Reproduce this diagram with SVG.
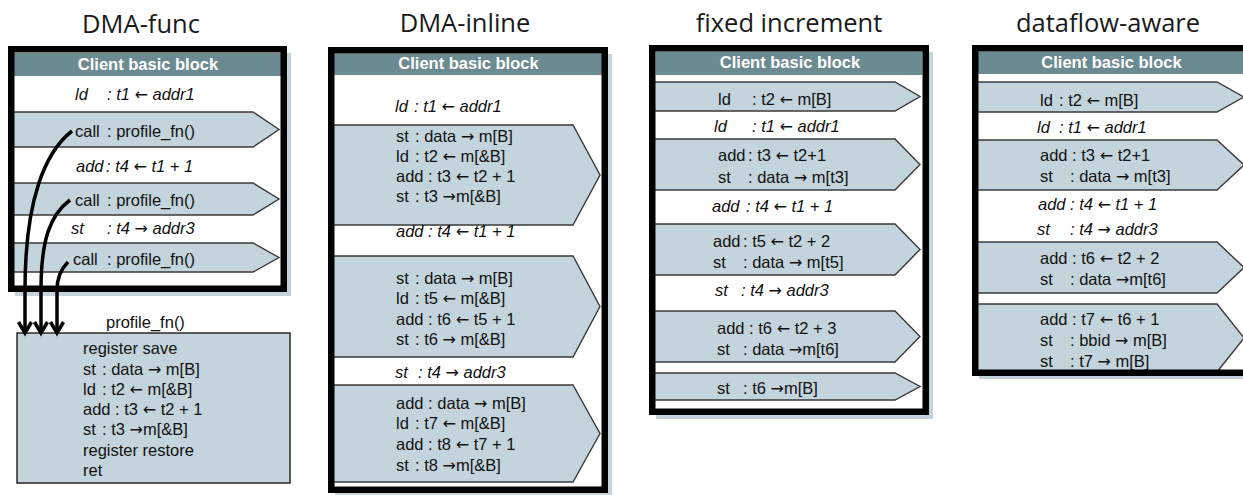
<svg xmlns="http://www.w3.org/2000/svg" width="1243" height="495" viewBox="0 0 1243 495">
<style>
.title{font-family:"Open Sans","Liberation Sans",sans-serif;font-size:25.5px;fill:#1a1a1a;text-anchor:middle}
.hdrt{font-family:"Liberation Sans",Arial,sans-serif;font-size:16.5px;font-weight:bold;fill:#ffffff;text-anchor:middle}
.t{font-family:"Liberation Sans",Arial,sans-serif;font-size:16.5px;fill:#111}
.i{font-style:italic}
.a{font-family:"DejaVu Sans",sans-serif;font-style:normal;font-size:16px}
.shadow{fill:#c3d4dc}
.bg{fill:#ffffff}
.hdr{fill:#6c8a91}
.pent{fill:#c3d4dc;stroke:#3a3a3a;stroke-width:1.4}
.border{fill:none;stroke:#000;stroke-width:6.5}
.conn{fill:none;stroke:#000;stroke-width:3.5}
</style>
<defs>
<marker id="ah" markerUnits="userSpaceOnUse" markerWidth="20" markerHeight="20" refX="13" refY="8" orient="auto">
<path d="M2,1.5 L13,8 L2,14.5" fill="none" stroke="#000" stroke-width="3.5" stroke-linejoin="miter"/>
</marker>
</defs>

<g id="titles">
<text class="title" x="141" y="33">DMA-func</text>
<text class="title" x="465" y="32">DMA-inline</text>
<text class="title" x="789" y="32">fixed increment</text>
<text class="title" x="1108" y="32">dataflow-aware</text>
</g>

<g id="panel-dma-func">
<rect class="shadow" x="15" y="53" width="276" height="243"/>
<rect class="bg" x="11" y="49" width="273" height="240"/>
<rect class="hdr" x="14" y="53" width="267" height="23"/>
<text class="hdrt" x="148" y="70">Client basic block</text>
<text class="t i" y="99.5"><tspan x="75">ld</tspan><tspan x="107">: t1 <tspan class="a">←</tspan>  addr1</tspan></text>
<path class="pent" d="M12,112 H253 L279,129.5 L253,147 H12 Z"/>
<text class="t" y="137"><tspan x="75">call</tspan><tspan x="107">: profile_fn()</tspan></text>
<text class="t i" y="171.5"><tspan x="76">add</tspan><tspan x="106">:  t4 <tspan class="a">←</tspan>  t1 + 1</tspan></text>
<path class="pent" d="M12,183 H253 L279,199 L253,215 H12 Z"/>
<text class="t" y="205.5"><tspan x="75">call</tspan><tspan x="107">: profile_fn()</tspan></text>
<text class="t i" y="233.5"><tspan x="71">st</tspan><tspan x="107">: t4 <tspan class="a">→</tspan> addr3</tspan></text>
<path class="pent" d="M12,243 H253 L279,257.5 L253,272 H12 Z"/>
<text class="t" y="264.5"><tspan x="73">call</tspan><tspan x="107">: profile_fn()</tspan></text>
<rect class="border" x="11.25" y="49.25" width="272.5" height="239.5"/>
</g>

<g id="profile-fn">
<text class="t" x="106" y="328">profile_fn()</text>
<rect x="17" y="333" width="273" height="150" fill="#c3d4dc" stroke="#2a2a2a" stroke-width="1.5"/>
<text class="t" x="83" y="354">register save</text>
<text class="t" y="374.5"><tspan x="83">st</tspan><tspan x="102">: data <tspan class="a">→</tspan> m[B]</tspan></text>
<text class="t" y="395"><tspan x="83">ld</tspan><tspan x="102">: t2 <tspan class="a">←</tspan> m[&amp;B]</tspan></text>
<text class="t" x="83" y="415">add : t3 <tspan class="a">←</tspan> t2 + 1</text>
<text class="t" y="435"><tspan x="83">st</tspan><tspan x="102">: t3 <tspan class="a">→</tspan>m[&amp;B]</tspan></text>
<text class="t" x="83" y="455.5">register restore</text>
<text class="t" x="83" y="476">ret</text>
</g>

<g id="connectors">
<path class="conn" marker-end="url(#ah)" d="M72,131 C45,152 25,200 25,290 L25,333"/>
<path class="conn" marker-end="url(#ah)" d="M70,200 C50,215 41,240 41,290 L41,333"/>
<path class="conn" marker-end="url(#ah)" d="M68,262 C60,270 57,280 57,290 L57,333"/>
</g>

<g id="panel-dma-inline">
<rect class="shadow" x="335" y="54" width="277" height="443"/>
<rect class="bg" x="331" y="50" width="274" height="440"/>
<rect class="hdr" x="334" y="53.5" width="268" height="21.5"/>
<text class="hdrt" x="468.5" y="69">Client basic block</text>
<text class="t i" y="112"><tspan x="395">ld</tspan><tspan x="414">: t1 <tspan class="a">←</tspan>  addr1</tspan></text>
<path class="pent" d="M333,125 H573 L600,175 L573,225 H333 Z"/>
<text class="t" y="142"><tspan x="396">st</tspan><tspan x="415">: data <tspan class="a">→</tspan> m[B]</tspan></text>
<text class="t" y="162"><tspan x="396">ld</tspan><tspan x="415">: t2  <tspan class="a">←</tspan> m[&amp;B]</tspan></text>
<text class="t" x="396" y="182">add : t3 <tspan class="a">←</tspan> t2 + 1</text>
<text class="t" y="202"><tspan x="396">st</tspan><tspan x="415">: t3  <tspan class="a">→</tspan>m[&amp;B]</tspan></text>
<text class="t i" x="396" y="237">add : t4  <tspan class="a">←</tspan>  t1 + 1</text>
<path class="pent" d="M333,256 H573 L600,306.5 L573,357 H333 Z"/>
<text class="t" y="283.5"><tspan x="396">st</tspan><tspan x="415">:  data <tspan class="a">→</tspan> m[B]</tspan></text>
<text class="t" y="304"><tspan x="396">ld</tspan><tspan x="415">:  t5 <tspan class="a">←</tspan> m[&amp;B]</tspan></text>
<text class="t" x="396" y="324.5">add :  t6 <tspan class="a">←</tspan> t5 + 1</text>
<text class="t" y="345"><tspan x="396">st</tspan><tspan x="415">:  t6  <tspan class="a">→</tspan> m[&amp;B]</tspan></text>
<text class="t i" y="377.5"><tspan x="395">st</tspan><tspan x="418">: t4  <tspan class="a">→</tspan>  addr3</tspan></text>
<path class="pent" d="M333,385 H573 L600,433.5 L573,482 H333 Z"/>
<text class="t" x="396" y="408.5">add :  data <tspan class="a">→</tspan> m[B]</text>
<text class="t" y="429"><tspan x="396">ld</tspan><tspan x="415">: t7  <tspan class="a">←</tspan> m[&amp;B]</tspan></text>
<text class="t" x="396" y="450">add : t8  <tspan class="a">←</tspan> t7 + 1</text>
<text class="t" y="471"><tspan x="396">st</tspan><tspan x="415">: t8  <tspan class="a">→</tspan>m[&amp;B]</tspan></text>
<rect class="border" x="331.25" y="50.25" width="273.5" height="439.5"/>
</g>

<g id="panel-fixed-increment">
<rect class="shadow" x="656" y="52" width="277" height="367"/>
<rect class="bg" x="652" y="48" width="274" height="364"/>
<rect class="hdr" x="655.5" y="51.5" width="267" height="23.5"/>
<text class="hdrt" x="790" y="68">Client basic block</text>
<path class="pent" d="M654,82 H895 L920,96.5 L895,111 H654 Z"/>
<text class="t" y="104.5"><tspan x="718">ld</tspan><tspan x="752">: t2 <tspan class="a">←</tspan> m[B]</tspan></text>
<text class="t i" y="131.5"><tspan x="714">ld</tspan><tspan x="752">: t1 <tspan class="a">←</tspan> addr1</tspan></text>
<path class="pent" d="M654,139 H895 L920,164.5 L895,190 H654 Z"/>
<text class="t" y="160.5"><tspan x="718">add</tspan><tspan x="748">: t3 <tspan class="a">←</tspan> t2+1</tspan></text>
<text class="t" y="182.5"><tspan x="718">st</tspan><tspan x="748">: data <tspan class="a">→</tspan> m[t3]</tspan></text>
<text class="t i" y="211.5"><tspan x="712">add</tspan><tspan x="746">: t4 <tspan class="a">←</tspan> t1 + 1</tspan></text>
<path class="pent" d="M654,224 H895 L920,249.5 L895,275 H654 Z"/>
<text class="t" y="246.5"><tspan x="713">add</tspan><tspan x="743">:  t5 <tspan class="a">←</tspan> t2 + 2</tspan></text>
<text class="t" y="267.5"><tspan x="713">st</tspan><tspan x="743">:  data <tspan class="a">→</tspan> m[t5]</tspan></text>
<text class="t i" y="295.5"><tspan x="715">st</tspan><tspan x="741">: t4 <tspan class="a">→</tspan> addr3</tspan></text>
<path class="pent" d="M654,311 H895 L920,336.5 L895,362 H654 Z"/>
<text class="t" x="717" y="334">add : t6  <tspan class="a">←</tspan> t2 + 3</text>
<text class="t" y="354.5"><tspan x="717">st</tspan><tspan x="743">: data <tspan class="a">→</tspan>m[t6]</tspan></text>
<path class="pent" d="M654,373 H895 L920,386.5 L895,400 H654 Z"/>
<text class="t" y="394"><tspan x="717">st</tspan><tspan x="743">: t6 <tspan class="a">→</tspan>m[B]</tspan></text>
<rect class="border" x="652.25" y="48.25" width="273.5" height="363.5"/>
</g>

<g id="panel-dataflow-aware">
<rect class="shadow" x="979" y="52" width="277" height="327"/>
<rect class="bg" x="975" y="48" width="274" height="325"/>
<rect class="hdr" x="978" y="51.5" width="268" height="22.5"/>
<text class="hdrt" x="1111.5" y="68">Client basic block</text>
<path class="pent" d="M976,82 H1217 L1244,97 L1217,112 H976 Z"/>
<text class="t" y="105.5"><tspan x="1040">ld</tspan><tspan x="1059">: t2 <tspan class="a">←</tspan> m[B]</tspan></text>
<text class="t i" y="133"><tspan x="1037">ld</tspan><tspan x="1059">: t1 <tspan class="a">←</tspan> addr1</tspan></text>
<path class="pent" d="M976,140 H1217 L1244,165 L1217,190 H976 Z"/>
<text class="t" x="1040" y="160.5">add : t3 <tspan class="a">←</tspan> t2+1</text>
<text class="t" y="182"><tspan x="1040">st</tspan><tspan x="1070">: data <tspan class="a">→</tspan> m[t3]</tspan></text>
<text class="t i" y="210"><tspan x="1038">add</tspan><tspan x="1070">: t4 <tspan class="a">←</tspan> t1 + 1</tspan></text>
<text class="t i" y="235"><tspan x="1037">st</tspan><tspan x="1070">: t4 <tspan class="a">→</tspan> addr3</tspan></text>
<path class="pent" d="M976,242 H1217 L1244,267.5 L1217,293 H976 Z"/>
<text class="t" x="1040" y="264">add : t6  <tspan class="a">←</tspan> t2 + 2</text>
<text class="t" y="285"><tspan x="1040">st</tspan><tspan x="1070">: data <tspan class="a">→</tspan>m[t6]</tspan></text>
<path class="pent" d="M976,304 H1217 L1244,338 L1217,372 H976 Z"/>
<text class="t" x="1040" y="325">add : t7 <tspan class="a">←</tspan> t6 + 1</text>
<text class="t" y="346"><tspan x="1040">st</tspan><tspan x="1070">: bbid <tspan class="a">→</tspan> m[B]</tspan></text>
<text class="t" y="366.5"><tspan x="1040">st</tspan><tspan x="1070">: t7 <tspan class="a">→</tspan> m[B]</tspan></text>
<rect class="border" x="975.25" y="48.25" width="273.5" height="324.5"/>
</g>
</svg>
